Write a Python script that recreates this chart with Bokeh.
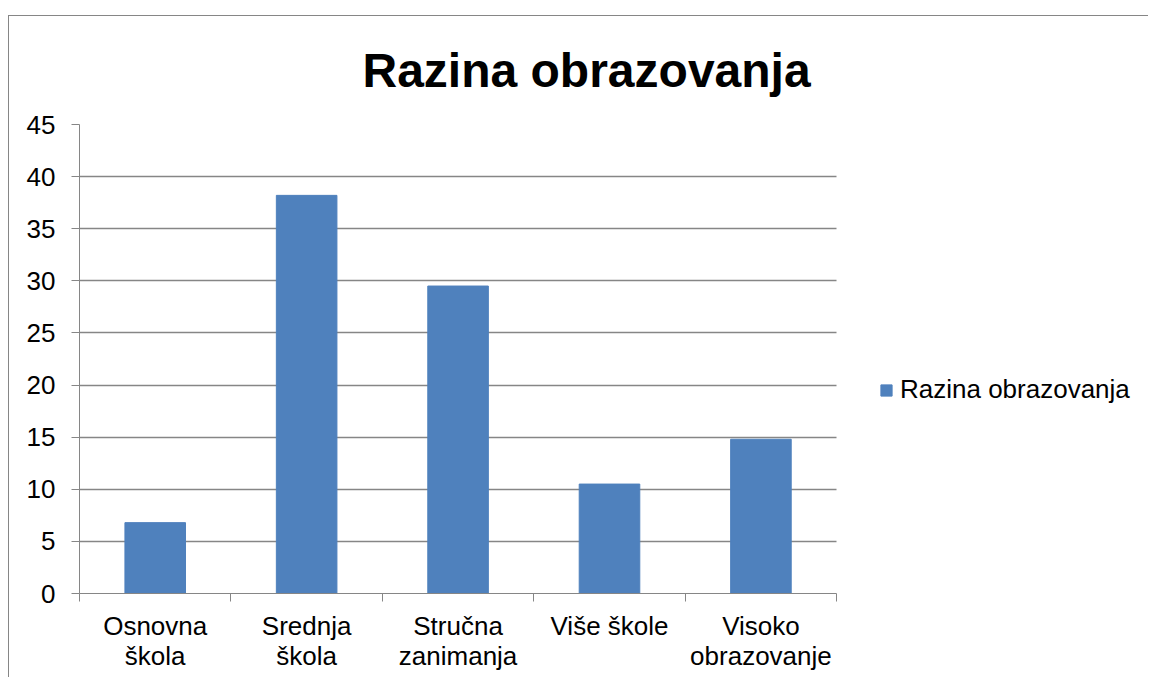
from bokeh.plotting import figure
from bokeh.models import FixedTicker, Legend, LegendItem, ColumnDataSource, Title, Grid
from bokeh.embed import file_html
from bokeh.resources import INLINE

categories = ["Osnovna\nškola", "Srednja\nškola", "Stručna\nzanimanja", "Više škole", "Visoko\nobrazovanje"]
values = [6.8, 38.2, 29.5, 10.5, 14.8]
series_name = "Razina obrazovanja"
title_text = "Razina obrazovanja"
y_ticks = list(range(0, 50, 5))

n = len(categories)
centers = [i + 0.5 for i in range(n)]
bounds = list(range(n + 1))

src = ColumnDataSource(dict(x=centers, top=values))

FONT = "Liberation Sans"
GRAY = "#868686"

# frame extends to the right edge so the legend (drawn inside it) is not clipped
p = figure(width=1140, height=662, output_backend="svg", toolbar_location=None,
           x_range=(0, 7), y_range=(0, 45),
           min_border_left=70, min_border_right=10, min_border_top=108, min_border_bottom=85)
p.styles = {"margin-top": "15px", "margin-left": "8px",
            "border-top": "1px solid #868686", "border-left": "1px solid #868686"}
p.outline_line_color = None
p.background_fill_color = "white"

t = Title(text=title_text, text_font=FONT, text_font_size="48px", text_font_style="bold",
          align="left", offset=283, standoff=52, text_color="black",
          vertical_align="top")
p.title = t

# gridlines limited to the category area
p.xgrid.grid_line_color = None
if "cross_bounds" in Grid.properties():
    p.ygrid.ticker = FixedTicker(ticks=y_ticks)
    p.ygrid.cross_bounds = (0, n)
    p.ygrid.grid_line_color = GRAY
    p.ygrid.grid_line_width = 1.5
else:
    p.ygrid.grid_line_color = None
    p.segment(x0=[0] * len(y_ticks), x1=[n] * len(y_ticks), y0=y_ticks, y1=y_ticks,
              line_color=GRAY, line_width=1.5, level="underlay")

r = p.vbar(x="x", top="top", width=0.4, bottom=0, source=src, fill_color="#4F81BD", line_color="#4F81BD")

# y axis
p.yaxis.ticker = FixedTicker(ticks=y_ticks)
p.yaxis.axis_line_color = GRAY
p.yaxis.major_tick_line_color = GRAY
p.yaxis.major_tick_out = 8
p.yaxis.major_tick_in = 0
p.yaxis.minor_tick_line_color = None
p.yaxis.major_label_text_font = FONT
p.yaxis.major_label_text_font_size = "26px"
p.yaxis.major_label_text_color = "black"
p.yaxis.major_label_standoff = 16

# x axis
p.xaxis.bounds = (0, n)
p.xaxis.ticker = FixedTicker(ticks=centers, minor_ticks=bounds)
p.xaxis.major_label_overrides = {c: lab for c, lab in zip(centers, categories)}
p.xaxis.axis_line_color = GRAY
p.xaxis.major_tick_line_color = None
p.xaxis.minor_tick_line_color = GRAY
p.xaxis.minor_tick_out = 8
p.xaxis.minor_tick_in = 0
p.xaxis.major_label_text_font = FONT
p.xaxis.major_label_text_font_size = "26px"
p.xaxis.major_label_text_line_height = 1.0
p.xaxis.major_label_text_color = "black"
p.xaxis.major_label_standoff = 9

legend = Legend(items=[LegendItem(label=series_name, renderers=[r])],
                location=(800, 188), orientation="vertical",
                label_text_font=FONT, label_text_font_size="26px", label_text_color="black",
                glyph_width=14, glyph_height=14, label_standoff=7, padding=0, margin=0,
                border_line_color=None, background_fill_alpha=0)
p.add_layout(legend, "center")

open("out.html", "w").write(file_html(p, INLINE))
